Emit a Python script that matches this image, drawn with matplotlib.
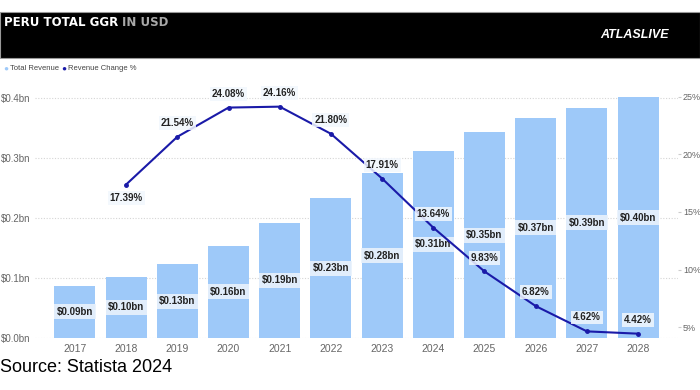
import matplotlib
matplotlib.use("Agg")
from matplotlib import pyplot as plt
from matplotlib.patches import Rectangle

years = ['2017', '2018', '2019', '2020', '2021', '2022', '2023', '2024', '2025', '2026', '2027', '2028']
revenue = [0.087, 0.102, 0.123, 0.154, 0.192, 0.233, 0.275, 0.312, 0.343, 0.367, 0.384, 0.401]
revenue_labels = ['$0.09bn', '$0.10bn', '$0.13bn', '$0.16bn', '$0.19bn', '$0.23bn',
                  '$0.28bn', '$0.31bn', '$0.35bn', '$0.37bn', '$0.39bn', '$0.40bn']
change_years = years[1:]
change = [17.39, 21.54, 24.08, 24.16, 21.80, 17.91, 13.64, 9.83, 6.82, 4.62, 4.42]

bar_color = '#9ec9f9'
line_color = '#1a1aa8'
grey = '#666666'

plt.rcParams['font.family'] = ['Liberation Sans', 'DejaVu Sans']

fig = plt.figure(figsize=(7, 3.9), dpi=100)

# black header band
fig.patches.append(Rectangle((0, 1 - 58 / 390), 1, 46 / 390, transform=fig.transFigure,
                             facecolor='black', edgecolor='#999999', linewidth=0.8))
t = fig.text(0.005, 1 - 22 / 390, 'PERU TOTAL GGR ', color='white', fontsize=8.5,
             fontweight='heavy', family=['DejaVu Sans'], va='center', ha='left')
fig.canvas.draw()
bb = t.get_window_extent().transformed(fig.transFigure.inverted())
fig.text(bb.x1, 1 - 22 / 390, 'IN USD', color='#a8a8a8', fontsize=8.5,
         fontweight='heavy', family=['DejaVu Sans'], va='center', ha='left')
fig.text(0.955, 1 - 35 / 390, 'ATLASLIVE', color='white', fontsize=9,
         fontweight='bold', fontstyle='italic', va='center', ha='right')

# legend
fig.text(0.005, 1 - 69 / 390, '●', color=bar_color, fontsize=6, va='center')
fig.text(0.015, 1 - 69 / 390, 'Total Revenue', color='#444444', fontsize=5.5, va='center')
fig.text(0.087, 1 - 69 / 390, '●', color=line_color, fontsize=6, va='center')
fig.text(0.097, 1 - 69 / 390, 'Revenue Change %', color='#444444', fontsize=5.5, va='center')

fig.text(0.0, 1 - 368 / 390, 'Source: Statista 2024', color='black', fontsize=13, va='center')

ax = fig.add_axes([0.05, 0.1333, 0.9186, 0.6462])
x = list(range(len(years)))
bars = ax.bar(x, revenue, width=0.8, color=bar_color, zorder=2)
for xi, v, lab in zip(x, revenue, revenue_labels):
    ax.text(xi, v / 2, lab, ha='center', va='center', fontsize=7, fontweight='bold',
            color='#222222', zorder=5,
            bbox=dict(boxstyle='square,pad=0.25', facecolor='#e9f2fc', edgecolor='none', alpha=0.9))

ax.set_xlim(-0.78, 11.78)
ax.set_ylim(0, 0.42)
ax.set_yticks([0, 0.1, 0.2, 0.3, 0.4])
ax.set_yticklabels(['$0.0bn', '$0.1bn', '$0.2bn', '$0.3bn', '$0.4bn'])
ax.set_xticks(x)
ax.set_xticklabels(years)
ax.tick_params(axis='both', length=0, colors=grey, labelsize=7)
ax.tick_params(axis='x', labelsize=7.5, pad=4)
ax.tick_params(axis='y', pad=3)
ax.grid(axis='y', linestyle=(0, (1, 1.5)), color='#d5d5d5', linewidth=0.8, zorder=0)
for s in ax.spines.values():
    s.set_visible(False)

ax2 = ax.twinx()
cx = [years.index(y) for y in change_years]
ax2.plot(cx, change, color=line_color, linewidth=1.5, marker='o', markersize=2.5, zorder=4)
for xi, v in zip(cx, change):
    off = -10 if v == change[0] else 10
    ax2.annotate(f'{v:.2f}%', (xi, v), xytext=(0, off), textcoords='offset points',
                 ha='center', va='center', fontsize=7, fontweight='bold', color='#222222',
                 zorder=6,
                 bbox=dict(boxstyle='square,pad=0.2', facecolor='#f2f7fd', edgecolor='none', alpha=0.85))
ax2.set_ylim(4.043, 4.043 + 252 / 11.5)
ax2.set_yticks([5, 10, 15, 20, 25])
ax2.set_yticklabels(['5%', '10%', '15%', '20%', '25%'])
ax2.tick_params(axis='y', length=2.5, colors=grey, labelsize=6.5, pad=1)
ax2.tick_params(axis='y', color='#cccccc')
for s in ax2.spines.values():
    s.set_visible(False)

fig.savefig('out.png', dpi=100)
